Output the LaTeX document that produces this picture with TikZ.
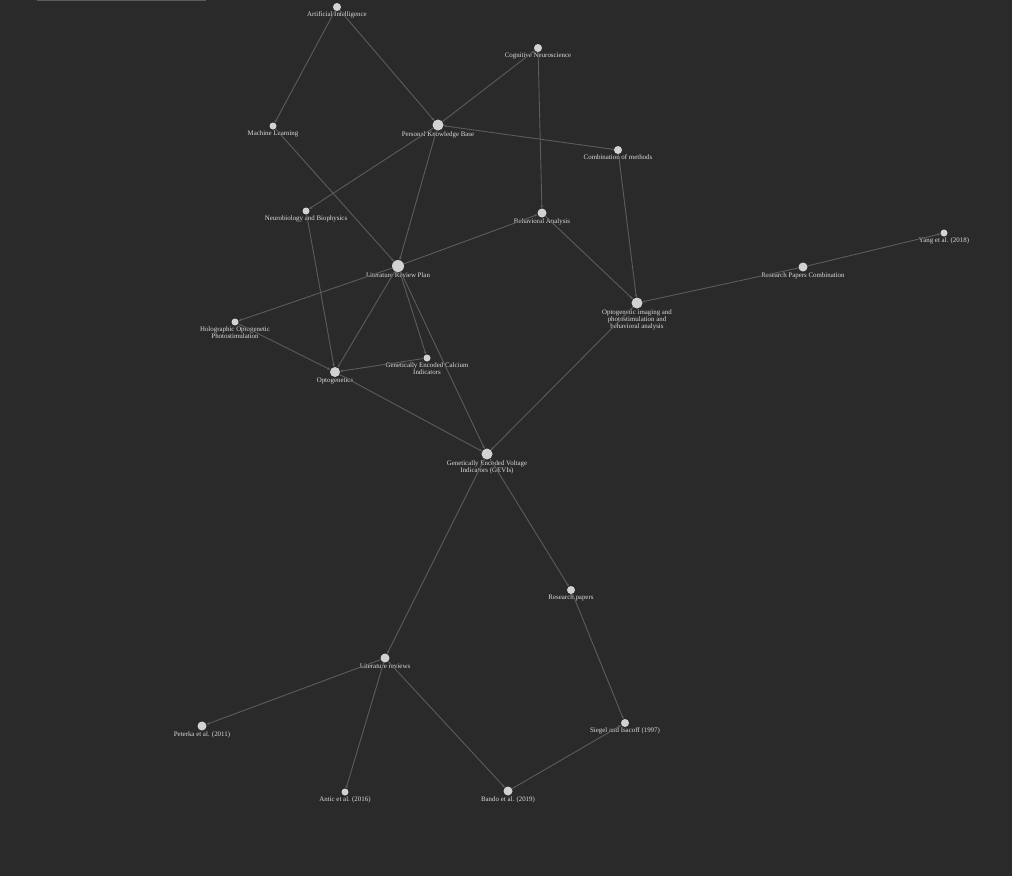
\documentclass[tikz,border=0pt]{standalone}
\usepackage{fontspec}
\setmainfont{Liberation Serif}
\usetikzlibrary{arrows.meta}
\definecolor{bg}{HTML}{2A2A2A}
\definecolor{nodefill}{HTML}{D2D2D2}
\definecolor{edgec}{HTML}{5C5C5C}
\definecolor{labelc}{HTML}{DCDCDC}
\definecolor{barc}{HTML}{5A5A5A}
\tikzset{
  dot/.style={circle, fill=nodefill, draw=none, inner sep=0pt, minimum size=#1},
  lbl/.style={font=\fontsize{6.9}{7}\selectfont, text=labelc, align=center, inner sep=0pt},
  link/.style={draw=edgec, line width=0.9pt, -{Stealth[length=3pt,width=2.6pt]}},
  every label/.style={lbl, label distance=0.6pt}
}
\begin{document}
\begin{tikzpicture}[x=1pt,y=-1pt]
\fill[bg] (0,0) rectangle (1012,876);
\useasboundingbox (0,0) rectangle (1012,876);
\coordinate (barL) at (37,0.6);
\coordinate (barR) at (206,0.6);
\draw[barc, line width=1.3pt] (barL) -- (barR);

\node[dot=8pt, label=below:{Artificial Intelligence}] (ai) at (337,7) {};
\node[dot=8pt, label=below:{Cognitive Neuroscience}] (cn) at (538,48) {};
\node[dot=7pt, label=below:{Machine Learning}] (ml) at (273,126) {};
\node[dot=11pt, label=below:{Personal Knowledge Base}] (pkb) at (438,125) {};
\node[dot=8pt, label=below:{Combination of methods}] (com) at (618,150) {};
\node[dot=7pt, label=below:{Neurobiology and Biophysics}] (neu) at (306,211) {};
\node[dot=9pt, label=below:{Behavioral Analysis}] (ba) at (542,213) {};
\node[dot=7pt, label=below:{Yang et al. (2018)}] (yang) at (944,233) {};
\node[dot=12pt, label=below:{Literature Review Plan}] (lrp) at (398,266) {};
\node[dot=9pt, label=below:{Research Papers Combination}] (rpc) at (803,267) {};
\node[dot=11pt, label=below:{Optogenetic imaging and\\photostimulation and\\behavioral analysis}] (oi) at (637,303) {};
\node[dot=7pt, label=below:{Holographic Optogenetic\\Photostimulation}] (holo) at (235,322) {};
\node[dot=7pt, label=below:{Genetically Encoded Calcium\\Indicators}] (geci) at (427,358) {};
\node[dot=10pt, label=below:{Optogenetics}] (opto) at (335,372) {};
\node[dot=11pt, label=below:{Genetically Encoded Voltage\\Indicators (GEVIs)}] (gevi) at (487,454) {};
\node[dot=8pt, label=below:{Research papers}] (rp) at (571,590) {};
\node[dot=9pt, label=below:{Literature reviews}] (lr) at (385,658) {};
\node[dot=8pt, label=below:{Siegel and Isacoff (1997)}] (sie) at (625,723) {};
\node[dot=9pt, label=below:{Peterka et al. (2011)}] (pet) at (202,726) {};
\node[dot=7pt, label=below:{Antic et al. (2016)}] (ant) at (345,792) {};
\node[dot=9pt, label=below:{Bando et al. (2019)}] (ban) at (508,791) {};

\draw[link] (ai) -- (ml);
\draw[link] (ai) -- (pkb);
\draw[link] (pkb) -- (cn);
\draw[link] (cn) -- (ba);
\draw[link] (com) -- (pkb);
\draw[link] (pkb) -- (neu);
\draw[link] (pkb) -- (lrp);
\draw[link] (ml) -- (lrp);
\draw[link] (lrp) -- (ba);
\draw[link] (ba) -- (oi);
\draw[link] (com) -- (oi);
\draw[link] (rpc) -- (oi);
\draw[link] (rpc) -- (yang);
\draw[link] (lrp) -- (holo);
\draw[link] (lrp) -- (opto);
\draw[link] (lrp) -- (geci);
\draw[link] (lrp) -- (gevi);
\draw[link] (neu) -- (opto);
\draw[link] (holo) -- (opto);
\draw[link] (geci) -- (opto);
\draw[link] (opto) -- (gevi);
\draw[link] (oi) -- (gevi);
\draw[link] (gevi) -- (lr);
\draw[link] (gevi) -- (rp);
\draw[link] (lr) -- (pet);
\draw[link] (lr) -- (ant);
\draw[link] (lr) -- (ban);
\draw[link] (rp) -- (sie);
\draw[link] (ban) -- (sie);
\end{tikzpicture}
\end{document}
